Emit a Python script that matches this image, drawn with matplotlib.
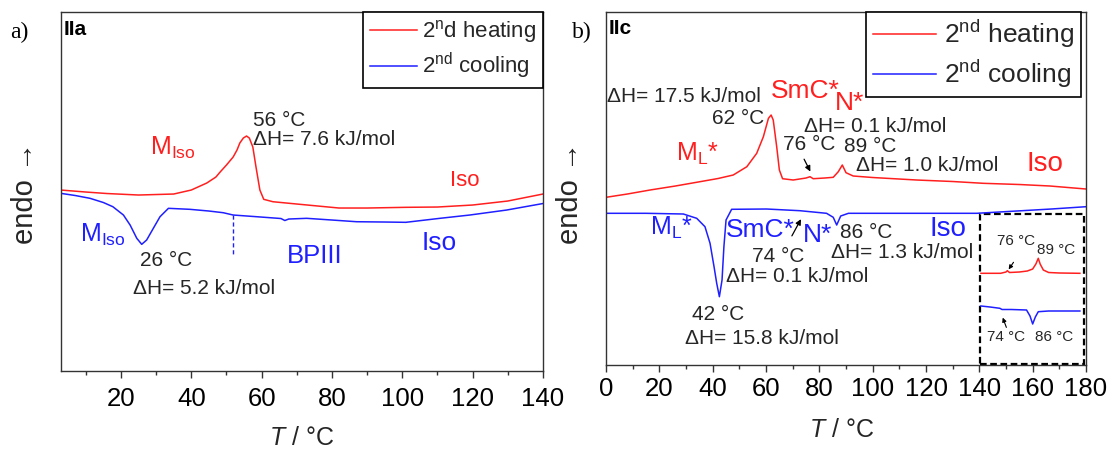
"""
dsc_traces.py - 2nd heating / 2nd cooling DSC traces for IIa and IIc.
"""

import matplotlib
matplotlib.use("Agg")
import matplotlib.pyplot as plt
from matplotlib.patches import Rectangle

plt.rcParams["font.family"] = ["Liberation Sans", "DejaVu Sans"]
plt.rcParams["mathtext.fontset"] = "custom"
plt.rcParams["mathtext.rm"] = "Liberation Sans"
plt.rcParams["mathtext.it"] = "Liberation Sans:italic"
plt.rcParams["mathtext.bf"] = "Liberation Sans:bold"

RED  = "#ff1f1f"
BLUE = "#1f1fff"
INK  = "#262626"

# -----------------------------------------------------------------------------
# Panel a) IIa   (heat flow in arbitrary units, endo up)
# -----------------------------------------------------------------------------
A_T_HEAT  = [2.85, 10, 16, 25, 35, 40, 44.4, 47, 48.2, 50, 51.9, 53, 53.8, 54.8, 55.7,
             56.5, 57.5, 58.4, 59.5, 60.6, 63.2, 70, 82, 90, 101, 110, 120, 130, 140]
A_HF_HEAT = [21.0, 20.8, 20.65, 20.5, 20.6, 21.0, 21.7, 22.3, 22.8, 23.5, 24.3, 25.0, 25.7, 26.2, 26.4,
             26.2, 25.3, 23.3, 21.0, 20.07, 19.83, 19.6, 19.2, 19.2, 19.27, 19.3, 19.5, 19.9, 20.6]

A_T_COOL  = [2.85, 7, 11.2, 15, 17.7, 20.7, 22.6, 24.5, 25.9, 27.3, 29.2, 31.1, 33.5, 39.6, 45,
             49.1, 51.9, 58.6, 65.5, 66.6, 67.7, 72.8, 80, 87, 95, 101, 110.7, 119.2, 129.7, 140]
A_HF_COOL = [20.67, 20.45, 20.17, 19.75, 19.33, 18.5, 17.5, 16.17, 15.57, 16.0, 17.17, 18.33, 19.17, 19.07, 18.9,
             18.73, 18.5, 18.33, 18.15, 17.95, 18.1, 18.17, 18.0, 17.83, 17.8, 17.77, 18.17, 18.5, 19.0, 19.65]

A_BP3_T  = 51.75
A_BP3_HF = (18.5, 14.5)

A_XTICKS = [20, 40, 60, 80, 100, 120, 140]

# -----------------------------------------------------------------------------
# Panel b) IIc
# -----------------------------------------------------------------------------
B_T_HEAT  = [0, 8, 16.5, 26, 35.2, 42, 47.7, 52.8, 56.5, 59, 60.9, 61.9, 62.7, 64, 65, 66.2,
             70.2, 75, 76.5, 77.7, 82, 85.2, 87.1, 88.6, 90, 92.7, 100, 116.5, 130, 141.5, 155, 166.5, 180]
B_HF_HEAT = [20.27, 20.6, 21.0, 21.4, 21.83, 22.15, 22.5, 23.33, 24.67, 26.33, 28.17, 28.5, 28.0, 25.33, 23.0, 22.13,
             22.0, 22.2, 22.33, 22.13, 22.2, 22.27, 22.83, 23.5, 22.73, 22.4, 22.25, 22.0, 21.85, 21.67, 21.55, 21.4, 21.1]

B_T_COOL  = [0, 15, 29, 34, 37.1, 39, 40.5, 41.5, 42.5, 43.5, 44.2, 45, 47.1, 60.2, 72.7,
             82.7, 85.2, 86.5, 88, 90.9, 110, 139, 154, 167, 180]
B_HF_COOL = [18.67, 18.67, 18.6, 18.17, 17.33, 15.67, 13.33, 11.67, 10.33, 12.0, 15.33, 18.0, 19.07, 19.1, 18.93,
             18.67, 18.27, 17.5, 18.4, 18.67, 18.67, 18.67, 18.9, 19.1, 19.33]

# inset (zoomed 70-95 °C region drawn inside the dashed box)
IN_T_HEAT  = [140.6, 148, 150, 150.5, 151.3, 155, 158, 160, 161.2, 162.1, 162.8, 164, 166, 170, 177.7]
IN_HF_HEAT = [12.67, 12.67, 12.8, 12.93, 12.75, 12.8, 12.9, 13.1, 13.6, 14.17, 13.6, 13.0, 12.75, 12.7, 12.67]
IN_T_COOL  = [140.6, 144, 147.7, 148.5, 152, 157.7, 159, 160, 161, 162.1, 166, 177.7]
IN_HF_COOL = [9.4, 9.3, 9.17, 9.05, 9.05, 9.0, 8.4, 7.6, 8.3, 8.83, 8.9, 8.9]
IN_BOX_T   = (140.4, 179.2)
IN_BOX_HF  = (3.6, 18.57)

B_XTICKS = [0, 20, 40, 60, 80, 100, 120, 140, 160, 180]


def style_axes(ax, xlim, ylim, xticks, pad):
    ax.set_xlim(*xlim)
    ax.set_ylim(*ylim)
    ax.set_xticks(xticks)
    ax.set_xticks([t + 10 for t in xticks[:-1]] + ([xticks[0] - 10] if xticks[0] - 10 > xlim[0] else []),
                  minor=True)
    ax.set_yticks([])
    for s in ax.spines.values():
        s.set_color("#333333")
        s.set_linewidth(1.0)
    ax.tick_params(axis="x", which="major", direction="out", length=5, width=1.0,
                   labelsize=18.5, pad=pad, color="#333333")
    ax.tick_params(axis="x", which="minor", direction="out", length=3, width=1.0, color="#333333")
    ax.set_ylabel("endo \u2192", fontsize=21, color=INK)
    ax.set_xlabel("$T$ / \u00b0C", fontsize=18, color=INK)


def main():
    fig = plt.figure(figsize=(11.11, 4.51), dpi=100)

    # -------------------------------------------------------------------------
    # a) IIa
    # -------------------------------------------------------------------------
    ax = fig.add_axes([0.0546, 0.178, 0.4341, 0.796])
    ax.plot(A_T_HEAT, A_HF_HEAT, color=RED, lw=1.1, label="2$^{\\rm n}$d heating")
    ax.plot(A_T_COOL, A_HF_COOL, color=BLUE, lw=1.1, label="2$^{\\rm nd}$ cooling")
    ax.plot([A_BP3_T, A_BP3_T], A_BP3_HF, color=BLUE, lw=1.0, ls=(0, (3, 2)))
    style_axes(ax, (2.85, 140), (2.93, 38.83), A_XTICKS, 6.5)
    ax.yaxis.set_label_coords(-0.045, 0.495)
    ax.xaxis.set_label_coords(0.5, -0.155)

    leg = ax.legend(loc="upper right", bbox_to_anchor=(1.0, 1.0), borderaxespad=0,
                    fontsize=16, frameon=True, fancybox=False, framealpha=1,
                    handlelength=2.1, handletextpad=0.25, labelspacing=0.25, borderpad=0.3)
    leg.get_frame().set_edgecolor("black")
    leg.get_frame().set_linewidth(1.2)
    for t in leg.get_texts():
        t.set_color(INK)

    ax.text(0.006, 0.978, "IIa", transform=ax.transAxes, ha="left", va="top",
            fontsize=15, fontweight="bold", color="black")
    ax.text(57.5, 28.0, "56 \u00b0C", fontsize=15, color=INK, va="center")
    ax.text(57.5, 26.1, "\u0394H= 7.6 kJ/mol", fontsize=15, color=INK, va="center")
    ax.text(28.2, 25.25, "M$_{\\rm Iso}$", fontsize=18, color=RED, va="center")
    ax.text(113.5, 22.0, "Iso", fontsize=16, color=RED, va="center")
    ax.text(8.3, 16.5, "M$_{\\rm Iso}$", fontsize=18, color=BLUE, va="center")
    ax.text(25.4, 14.0, "26 \u00b0C", fontsize=15, color=INK, va="center")
    ax.text(23.4, 11.2, "\u0394H= 5.2 kJ/mol", fontsize=15, color=INK, va="center")
    ax.text(67.2, 14.4, "BPIII", fontsize=18.5, color=BLUE, va="center")
    ax.text(105.6, 15.75, "Iso", fontsize=19, color=BLUE, va="center")

    # -------------------------------------------------------------------------
    # b) IIc
    # -------------------------------------------------------------------------
    bx = fig.add_axes([0.5455, 0.1907, 0.432, 0.7833])
    bx.plot(B_T_HEAT, B_HF_HEAT, color=RED, lw=1.1, label="2$^{\\rm nd}$ heating")
    bx.plot(B_T_COOL, B_HF_COOL, color=BLUE, lw=1.1, label="2$^{\\rm nd}$ cooling")
    bx.plot(IN_T_HEAT, IN_HF_HEAT, color=RED, lw=1.1)
    bx.plot(IN_T_COOL, IN_HF_COOL, color=BLUE, lw=1.1)
    bx.add_patch(Rectangle((IN_BOX_T[0], IN_BOX_HF[0]), IN_BOX_T[1] - IN_BOX_T[0],
                           IN_BOX_HF[1] - IN_BOX_HF[0], fill=False, ec="black",
                           lw=1.6, ls=(0, (3, 1.6))))
    style_axes(bx, (0, 180), (3.5, 38.83), B_XTICKS, 3.5)
    bx.yaxis.set_label_coords(-0.046, 0.487)
    bx.xaxis.set_label_coords(0.49, -0.15)

    leg = bx.legend(loc="upper right", bbox_to_anchor=(0.99, 1.0), borderaxespad=0,
                    fontsize=19, frameon=True, fancybox=False, framealpha=1,
                    handlelength=2.4, handletextpad=0.3, labelspacing=0.3, borderpad=0.25)
    leg.get_frame().set_edgecolor("black")
    leg.get_frame().set_linewidth(1.2)
    for t in leg.get_texts():
        t.set_color(INK)

    bx.text(0.006, 0.978, "IIc", transform=bx.transAxes, ha="left", va="top",
            fontsize=15, fontweight="bold", color="black")

    # heating annotations
    bx.text(0.3, 30.33, "\u0394H= 17.5 kJ/mol", fontsize=15, color=INK, va="center")
    bx.text(59.3, 28.17, "62 \u00b0C", fontsize=15, color=INK, va="center", ha="right")
    bx.text(61.7, 30.93, "SmC*", fontsize=19, color=RED, va="center")
    bx.text(85.7, 29.7, "N*", fontsize=19, color=RED, va="center")
    bx.text(74.1, 27.4, "\u0394H= 0.1 kJ/mol", fontsize=15, color=INK, va="center")
    bx.text(66.2, 25.6, "76 \u00b0C", fontsize=15, color=INK, va="center")
    bx.annotate("", xy=(77.1, 22.6), xytext=(73.8, 24.33),
                arrowprops=dict(arrowstyle="-|>", color="black", lw=0.9, mutation_scale=8))
    bx.text(89.4, 25.33, "89 \u00b0C", fontsize=15, color=INK, va="center")
    bx.text(93.6, 23.43, "\u0394H= 1.0 kJ/mol", fontsize=15, color=INK, va="center")
    bx.text(157.6, 23.6, "Iso", fontsize=20, color=RED, va="center")
    bx.text(26.4, 24.6, "M$_{\\rm L}$*", fontsize=18, color=RED, va="center")

    # cooling annotations
    bx.text(16.5, 17.17, "M$_{\\rm L}$*", fontsize=18, color=BLUE, va="center")
    bx.text(44.8, 17.0, "SmC*", fontsize=19, color=BLUE, va="center")
    bx.annotate("", xy=(73.6, 18.33), xytext=(69.2, 16.17),
                arrowprops=dict(arrowstyle="-|>", color="black", lw=0.9, mutation_scale=8))
    bx.text(73.8, 16.5, "N*", fontsize=19, color=BLUE, va="center")
    bx.text(87.7, 16.77, "86 \u00b0C", fontsize=15, color=INK, va="center")
    bx.text(84.4, 14.73, "\u0394H= 1.3 kJ/mol", fontsize=15, color=INK, va="center")
    bx.text(121.3, 17.07, "Iso", fontsize=20, color=BLUE, va="center")
    bx.text(54.7, 14.4, "74 \u00b0C", fontsize=15, color=INK, va="center")
    bx.text(44.8, 12.4, "\u0394H= 0.1 kJ/mol", fontsize=15, color=INK, va="center")
    bx.text(32.3, 8.5, "42 \u00b0C", fontsize=15, color=INK, va="center")
    bx.text(29.7, 6.1, "\u0394H= 15.8 kJ/mol", fontsize=15, color=INK, va="center")

    # inset labels
    bx.text(146.6, 15.93, "76 \u00b0C", fontsize=11, color=INK, va="center")
    bx.text(161.6, 15.0, "89 \u00b0C", fontsize=11, color=INK, va="center")
    bx.annotate("", xy=(150.4, 12.83), xytext=(153.4, 14.0),
                arrowprops=dict(arrowstyle="-|>", color="black", lw=0.8, mutation_scale=6))
    bx.text(142.7, 6.33, "74 \u00b0C", fontsize=11, color=INK, va="center")
    bx.text(160.9, 6.33, "86 \u00b0C", fontsize=11, color=INK, va="center")
    bx.annotate("", xy=(148.4, 8.5), xytext=(150.5, 7.0),
                arrowprops=dict(arrowstyle="-|>", color="black", lw=0.8, mutation_scale=6))

    # panel letters
    fig.text(10 / 1111, 1 - 32 / 451, "a)", fontsize=17, family="Liberation Serif",
             va="center", ha="left", color="black")
    fig.text(572 / 1111, 1 - 32 / 451, "b)", fontsize=17, family="Liberation Serif",
             va="center", ha="left", color="black")

    fig.savefig("out.png", dpi=100)
    plt.close(fig)


if __name__ == "__main__":
    main()
